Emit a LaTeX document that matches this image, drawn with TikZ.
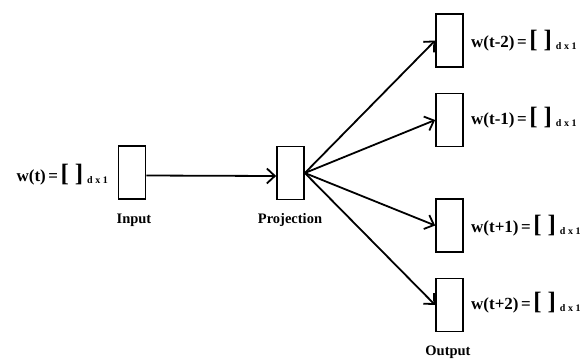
\documentclass[tikz,border=0pt]{standalone}
\usepackage{fontspec}
\setmainfont{Liberation Serif}
\usetikzlibrary{arrows.meta}
\newcommand{\wlab}[1]{\bfseries w(#1)\hspace{2.5pt}=\hspace{2.5pt}{\fontsize{25}{25}\selectfont[\hspace{6pt}]}\hspace{4pt}\raisebox{-2pt}{\fontsize{10}{10}\selectfont d\hspace{2.5pt}x\hspace{2.5pt}1}}
\begin{document}
\begin{tikzpicture}[x=1pt,y=-1pt,
  vec/.style={draw,line width=1.7pt,minimum width=27pt,minimum height=53pt,inner sep=0pt},
  conn/.style={line width=1.8pt,-{Straight Barb[length=8pt,width=15pt,line width=1.8pt]}},
  eq/.style={font=\fontsize{17}{18}\selectfont,inner sep=0pt},
  captxt/.style={font=\fontsize{14.5}{15}\selectfont\bfseries,inner sep=0pt}]
\useasboundingbox (0,0) rectangle (588,360);
\node[vec] (in) at (132,172.5) {};
\node[vec] (proj) at (290.5,173) {};
\node[vec] (o1) at (449.5,40.5) {};
\node[vec] (o2) at (449.5,120) {};
\node[vec] (o3) at (449.5,225.5) {};
\node[vec] (o4) at (449.5,305) {};
\draw[conn] ([yshift=-3pt]in.east) -- ([yshift=-3pt]proj.west);
\draw[conn] (proj.east) -- (o1.west);
\draw[conn] (proj.east) -- (o2.west);
\draw[conn] (proj.east) -- (o3.west);
\draw[conn] (proj.east) -- (o4.west);
\node[eq,anchor=east] (lin) at (108,175) {\wlab{t}};
\node[eq,anchor=west] (l1) at (471,41) {\wlab{t-2}};
\node[eq,anchor=west] (l2) at (471,118) {\wlab{t-1}};
\node[eq,anchor=west] (l3) at (471,226) {\wlab{t+1}};
\node[eq,anchor=west] (l4) at (471,303) {\wlab{t+2}};
\node[captxt] (cin) at (134,220) {Input};
\node[captxt] (cproj) at (290,220) {Projection};
\node[captxt] (cout) at (448,352) {Output};
\end{tikzpicture}
\end{document}
